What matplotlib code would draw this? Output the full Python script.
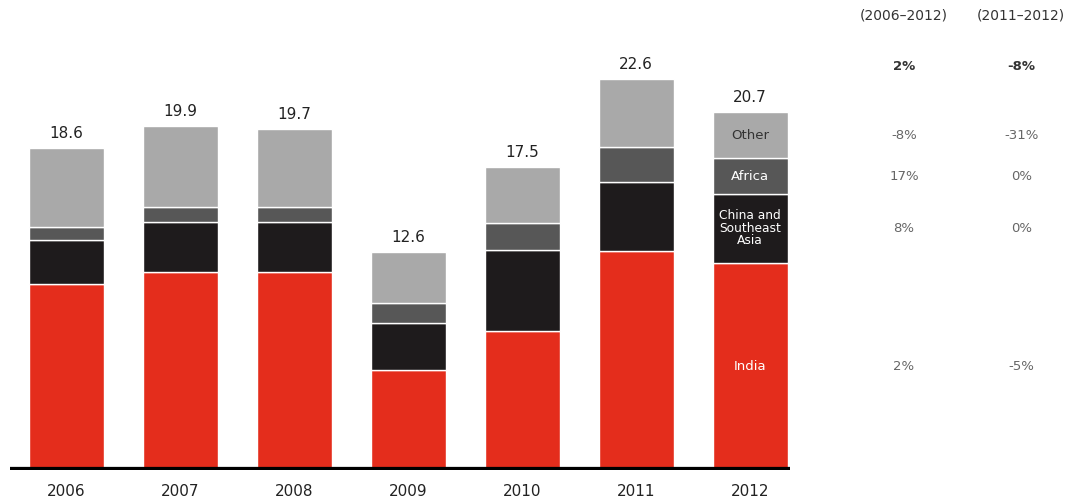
import numpy as np
import matplotlib
matplotlib.use("Agg")
from matplotlib import pyplot as plt

# data
years = ["2006", "2007", "2008", "2009", "2010", "2011", "2012"]
totals = [18.6, 19.9, 19.7, 12.6, 17.5, 22.6, 20.7]
india = [10.75, 11.45, 11.45, 5.78, 8.03, 12.65, 11.97]
china_sea = [2.54, 2.89, 2.89, 2.72, 4.68, 3.99, 3.99]
africa = [0.75, 0.87, 0.87, 1.16, 1.56, 2.05, 2.05]
other = [4.56, 4.69, 4.49, 2.94, 3.23, 3.91, 2.69]

segment_names = ["India", "China and\nSoutheast\nAsia", "Africa", "Other"]
cagr_headers = ["(2006\u20132012)", "(2011\u20132012)"]
cagr_total = ["2%", "-8%"]
cagr_06_12 = ["2%", "8%", "17%", "-8%"]
cagr_11_12 = ["-5%", "0%", "0%", "-31%"]

colors = ["#e42d1c", "#1e1b1c", "#575757", "#a9a9a9"]
label_colors = ["white", "white", "white", "#333333"]
label_sizes = [9.5, 8.8, 9.5, 9.5]

plt.rcParams['font.family'] = ['DejaVu Sans']

fig = plt.figure(figsize=(10.75, 5.01), dpi=100)
# axes placed so that the baseline sits at ~470 px from the top
ax = fig.add_axes([10 / 1075, 31 / 501, 780 / 1075, 470 / 501])

x = np.arange(len(years))
series = [india, china_sea, africa, other]
bottom = np.zeros(len(years))
bottoms = []
for vals, col in zip(series, colors):
    ax.bar(x, vals, width=0.66, bottom=bottom, color=col,
           edgecolor="white", linewidth=1.0)
    bottoms.append(bottom.copy())
    bottom = bottom + np.array(vals)

# totals above the bars
for xi, top, t in zip(x, bottom, totals):
    ax.annotate(f"{t}", (xi, top), xytext=(0, 5), textcoords="offset points",
                ha="center", va="bottom", fontsize=11, color="#222222")

# segment names inside the last bar
last = len(years) - 1
centers = []
for k, vals in enumerate(series):
    c = bottoms[k][last] + vals[last] / 2
    centers.append(c)
    ax.text(x[last], c, segment_names[k], ha="center", va="center",
            fontsize=label_sizes[k], color=label_colors[k], linespacing=0.95)

# table on the right
col_x = [7.35, 8.38]
for cx, h in zip(col_x, cagr_headers):
    ax.text(cx, 26.3, h, ha="center", va="center",
            fontsize=10, color="#333333", clip_on=False)
for cx, v in zip(col_x, cagr_total):
    ax.text(cx, 23.3, v, ha="center", va="center", fontsize=9.5,
            fontweight="bold", color="#333333", clip_on=False)
for k in range(len(series)):
    ax.text(col_x[0], centers[k], cagr_06_12[k], ha="center", va="center",
            fontsize=9.5, color="#666666", clip_on=False)
    ax.text(col_x[1], centers[k], cagr_11_12[k], ha="center", va="center",
            fontsize=9.5, color="#666666", clip_on=False)

ax.axhline(0, color="black", linewidth=4.5, zorder=5)
ax.set_xlim(-0.496, 6.35)
ax.set_ylim(0, 470 / 17.3)
ax.set_xticks(x)
ax.set_xticklabels(years, fontsize=11, color="#222222")
ax.tick_params(axis="x", length=0, pad=10)
ax.set_yticks([])
for s in ax.spines.values():
    s.set_visible(False)

fig.savefig("out.png", dpi=100)
